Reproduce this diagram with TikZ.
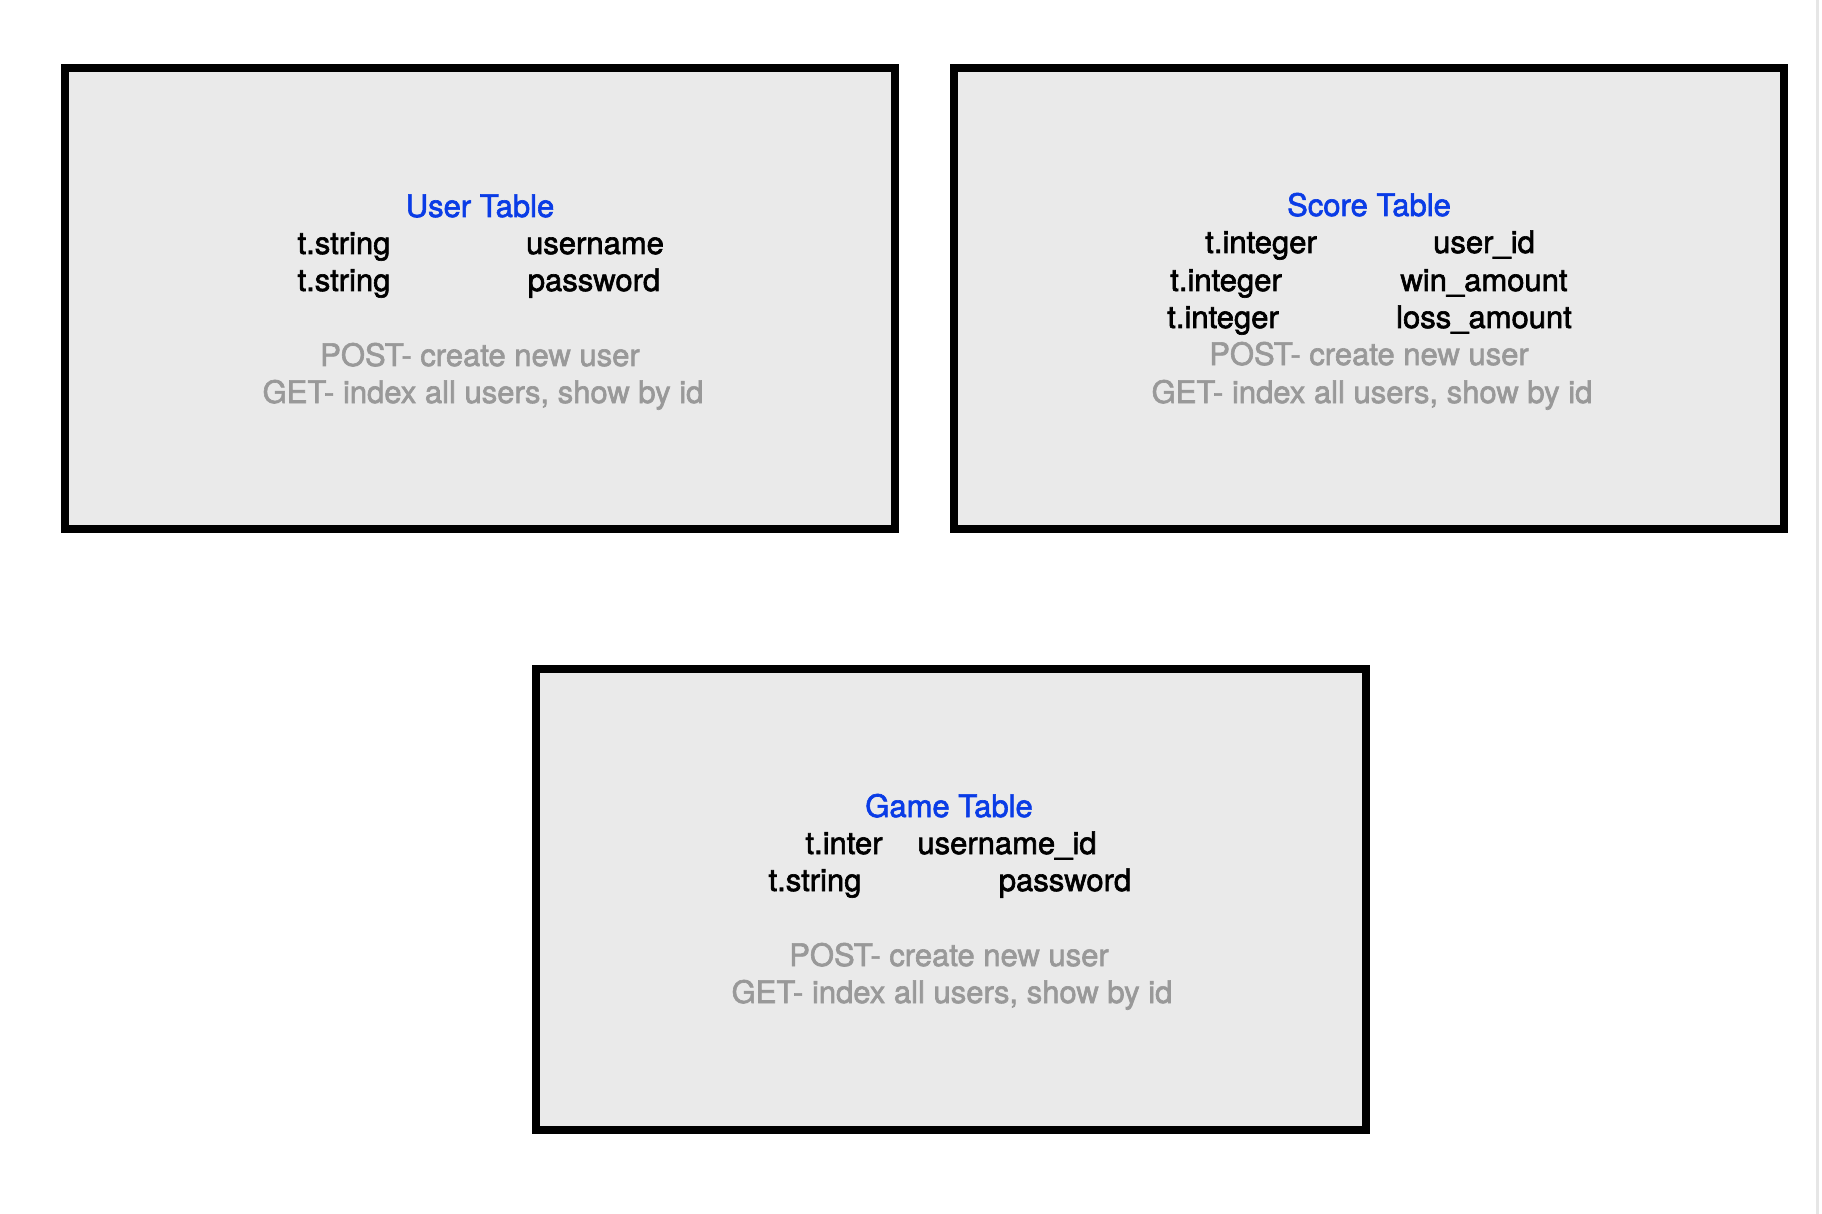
\documentclass[tikz,border=0pt]{standalone}
\usepackage{fontspec}
\setmainfont{TeX Gyre Heros}[UprightFeatures={FakeBold=2.0}]
\definecolor{boxfill}{HTML}{EAEAEA}
\definecolor{titleblue}{HTML}{0A3CE6}
\definecolor{apigray}{HTML}{999999}
\definecolor{edgegray}{HTML}{E6E6E6}
\begin{document}
\begin{tikzpicture}[x=0.5pt,y=-0.5pt,
  tablebox/.style={draw=black,line width=4pt,fill=boxfill,inner sep=0pt,
    minimum width=415pt,minimum height=230.5pt,anchor=center},
  txt/.style={inner sep=0pt,anchor=base,font=\fontsize{15.5}{18}\selectfont},
  ttl/.style={txt,text=titleblue},
  fld/.style={txt,text=black},
  api/.style={txt,text=apigray}]
\useasboundingbox[fill=white] (0,0) rectangle (1822,1214);
\fill[edgegray] (1816,0) rectangle (1819,1214);
% boxes
\node[tablebox] (user) at (480,298.5) {};
\node[tablebox] (score) at (1369,298.5) {};
\node[tablebox] (game) at (950.5,899.5) {};
% user table
\node[ttl] (ut) at (480,217) {User Table};
\node[fld] (u1a) at (344,254) {t.string};
\node[fld] (u1b) at (595,254) {username};
\node[fld] (u2a) at (344,291) {t.string};
\node[fld] (u2b) at (594,291) {password};
\node[api] (upost) at (480,366) {POST- create new user};
\node[api] (uget) at (483,403) {GET- index all users, show by id};
% score table
\node[ttl] (st) at (1369,216) {Score Table};
\node[fld] (s1a) at (1261,253) {t.integer};
\node[fld] (s1b) at (1484,253) {user\_id};
\node[fld] (s2a) at (1226,291) {t.integer};
\node[fld] (s2b) at (1484,291) {win\_amount};
\node[fld] (s3a) at (1223,328) {t.integer};
\node[fld] (s3b) at (1484,328) {loss\_amount};
\node[api] (spost) at (1369,365) {POST- create new user};
\node[api] (sget) at (1372,403) {GET- index all users, show by id};
% game table
\node[ttl] (gt) at (949,817) {Game Table};
\node[fld] (g1a) at (844,854) {t.inter};
\node[fld] (g1b) at (1007,854) {username\_id};
\node[fld] (g2a) at (815,891) {t.string};
\node[fld] (g2b) at (1065,891) {password};
\node[api] (gpost) at (949,966) {POST- create new user};
\node[api] (gget) at (952,1003) {GET- index all users, show by id};
\end{tikzpicture}
\end{document}
